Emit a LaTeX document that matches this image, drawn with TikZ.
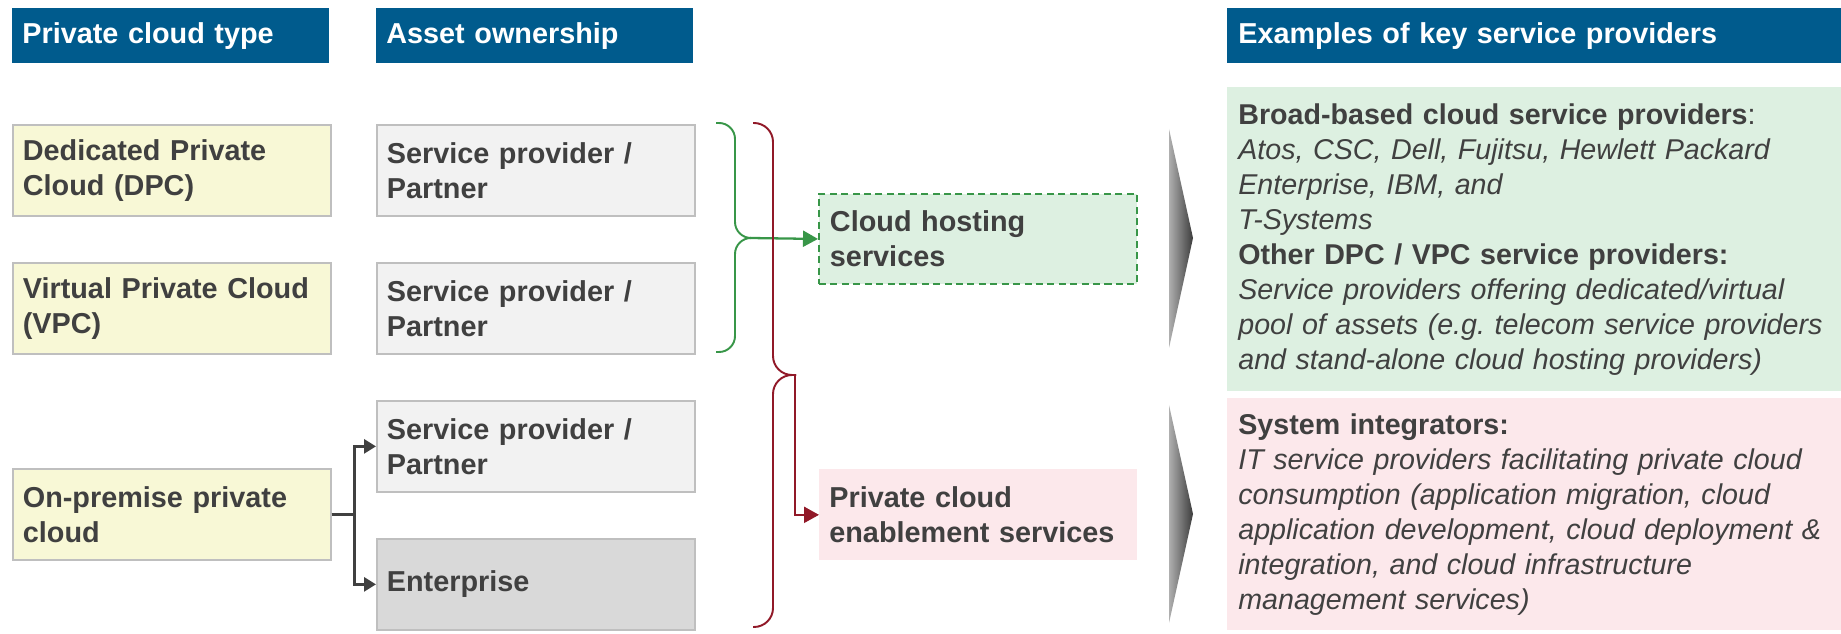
\documentclass[tikz,border=0pt]{standalone}
\usepackage{fontspec}
\setmainfont{Liberation Sans}
\usepackage{xcolor}
\usepackage{tikz}
\usetikzlibrary{arrows.meta}
\definecolor{hdrblue}{RGB}{0,91,141}
\definecolor{darktext}{RGB}{64,64,64}
\definecolor{boxline}{RGB}{191,191,191}
\definecolor{typefill}{RGB}{248,248,214}
\definecolor{ownfill}{RGB}{242,242,242}
\definecolor{entfill}{RGB}{217,217,217}
\definecolor{hostfill}{RGB}{221,240,225}
\definecolor{hostline}{RGB}{56,150,72}
\definecolor{enabfill}{RGB}{252,232,235}
\definecolor{enabline}{RGB}{145,25,40}
\definecolor{chevlight}{RGB}{175,175,175}
\definecolor{chevdark}{RGB}{60,60,60}

\begin{document}
\begin{tikzpicture}[x=0.02cm,y=-0.02cm,
  txt/.style={font=\fontsize{16.4}{19.9}\selectfont\bfseries,text=darktext,align=left,
    anchor=north west,inner xsep=0.2cm,inner ysep=0pt},
  hdr/.style={txt,fill=hdrblue,text=white,minimum height=1.1cm,text width=5.94cm},
  ownbox/.style={txt,draw=boxline,line width=1pt,minimum height=1.82cm,text width=5.96cm},
  infobox/.style={txt,inner xsep=0.22cm,text width=11.84cm,font=\fontsize{16.3}{19.9}\selectfont},
  >={Triangle[length=0.3cm,width=0.32cm]}]
\useasboundingbox (0,0) rectangle (1841,634);

\node[hdr] (htype) at (12,8) {Private cloud type};
\node[hdr] (hown) at (376,8) {Asset ownership};
\node[hdr,text width=11.84cm,inner xsep=0.22cm] (hprov) at (1227,8) {Examples of key service providers};

\node[ownbox,fill=typefill] (dpc) at (12,124) {Dedicated Private\\Cloud (DPC)};
\node[ownbox,fill=typefill] (vpc) at (12,262) {Virtual Private Cloud\\(VPC)};
\node[ownbox,fill=typefill] (onprem) at (12,468) {On-premise private\\cloud};

\node[ownbox,fill=ownfill] (sp1) at (376,124) {Service provider /\\Partner};
\node[ownbox,fill=ownfill] (sp2) at (376,262) {Service provider /\\Partner};
\node[ownbox,fill=ownfill] (sp3) at (376,400) {Service provider /\\Partner};
\node[ownbox,fill=entfill] (ent) at (376,538) {Enterprise};

\node[txt,fill=hostfill,draw=hostline,line width=1.1pt,dash pattern=on 4pt off 2.5pt,
  inner xsep=0.22cm,text width=5.92cm,minimum height=1.8cm] (host) at (818,193) {Cloud hosting\\services};
\node[txt,fill=enabfill,text width=5.96cm,minimum height=1.82cm] (enab) at (819,469) {Private cloud\\enablement services};

\draw[draw=darktext,line width=1.6pt,-{Triangle[length=0.24cm,width=0.28cm]}] (onprem.east) -- ++(23,0) |- (sp3.west);
\draw[draw=darktext,line width=1.6pt,-{Triangle[length=0.24cm,width=0.28cm]}] (onprem.east) -- ++(23,0) |- (ent.west);

\draw[hostline,line width=1.1pt,rounded corners=0.32cm] (716,123) -| (735,238) -- (752,238);
\draw[hostline,line width=1.1pt,rounded corners=0.32cm] (716,352) -| (735,238) -- (752,238);
\coordinate (gtip) at (750,238);
\draw[hostline,line width=1.3pt,->] (gtip) -- (host.west);

\draw[enabline,line width=1.1pt,rounded corners=0.38cm] (753,123) -| (773,375) -- (796,375);
\draw[enabline,line width=1.1pt,rounded corners=0.38cm] (753,627) -| (773,375) -- (796,375);
\coordinate (rtip) at (795,375);
\draw[enabline,line width=1.3pt,->] (rtip) |- (enab.west);

\shade[left color=chevlight,right color=chevdark] (1169,129) -- (1193,238) -- (1169,348) -- cycle;
\shade[left color=chevlight,right color=chevdark] (1169,405) -- (1193,514) -- (1169,623) -- cycle;

\node[infobox,fill=hostfill,minimum height=6.08cm] (provhost) at (1227,87)
  {\textbf{Broad-based cloud service providers}:\\
   \textit{Atos, CSC, Dell, Fujitsu, Hewlett Packard}\\
   \textit{Enterprise, IBM, and}\\
   \textit{T-Systems}\\
   \textbf{Other DPC / VPC service providers:}\\
   \textit{Service providers offering dedicated/virtual}\\
   \textit{pool of assets (e.g.\ telecom service providers}\\
   \textit{and stand-alone cloud hosting providers)}};
\node[infobox,fill=enabfill,minimum height=4.64cm] (provenab) at (1227,398)
  {\textbf{System integrators:}\\
   \textit{IT service providers facilitating private cloud}\\
   \textit{consumption (application migration, cloud}\\
   \textit{application development, cloud deployment \&}\\
   \textit{integration, and cloud infrastructure}\\
   \textit{management services)}};
\end{tikzpicture}
\end{document}
